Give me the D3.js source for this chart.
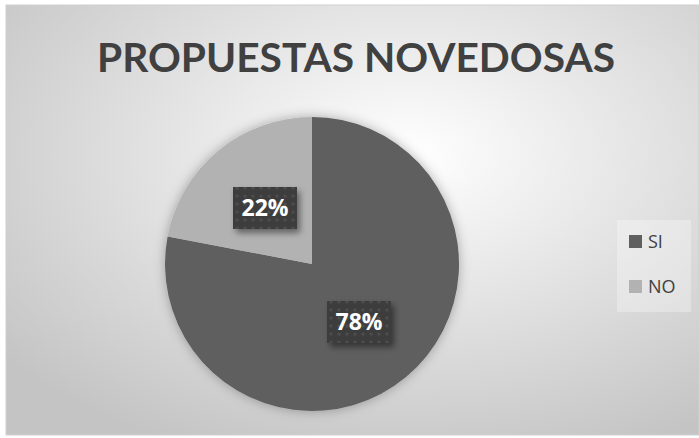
<!DOCTYPE html>
<html>
<head>
<meta charset="utf-8">
<script src="https://cdn.jsdelivr.net/npm/d3@7"></script>
<style>
  body { margin: 0; background: #fff; }
</style>
</head>
<body>
<div id="chart"></div>
<script>
// data
var categories = ["SI", "NO"];
var values = [78, 22];
var sliceColors = ["#5f5f5f", "#b2b2b2"];
var titleText = "PROPUESTAS NOVEDOSAS";

var w = 699, h = 438;

var svg = d3.select("#chart").append("svg")
    .attr("width", w)
    .attr("height", h);

var defs = svg.append("defs");

// radial background like excel
var bg = defs.append("radialGradient")
    .attr("id", "bgGrad")
    .attr("cx", "58%").attr("cy", "35%").attr("r", "75%");
bg.append("stop").attr("offset", "0%").attr("stop-color", "#ffffff");
bg.append("stop").attr("offset", "100%").attr("stop-color", "#c4c4c4");

// dotted pattern for the label boxes
var pat = defs.append("pattern")
    .attr("id", "dots")
    .attr("width", 8).attr("height", 8)
    .attr("patternUnits", "userSpaceOnUse");
pat.append("rect").attr("width", 8).attr("height", 8).attr("fill", "#3e3e3e");
pat.append("circle").attr("cx", 4).attr("cy", 4).attr("r", 1.6).attr("fill", "#4d4d4d");

var shadow = defs.append("filter").attr("id", "shadow")
    .attr("x", "-30%").attr("y", "-30%").attr("width", "160%").attr("height", "170%");
shadow.append("feDropShadow")
    .attr("dx", 3).attr("dy", 4).attr("stdDeviation", 3)
    .attr("flood-color", "#000").attr("flood-opacity", 0.45);

var pieShadow = defs.append("filter").attr("id", "pieShadow")
    .attr("x", "-20%").attr("y", "-20%").attr("width", "140%").attr("height", "140%");
pieShadow.append("feDropShadow")
    .attr("dx", 0).attr("dy", 0).attr("stdDeviation", 6)
    .attr("flood-color", "#000").attr("flood-opacity", 0.3);

// chart area
svg.append("rect")
    .attr("x", 6).attr("y", 5)
    .attr("width", w - 6).attr("height", 430)
    .attr("fill", "url(#bgGrad)")
    .attr("stroke", "#d0d0d0")
    .attr("stroke-width", 1);

// title
svg.append("text")
    .attr("x", 356)
    .attr("y", 72)
    .attr("text-anchor", "middle")
    .attr("textLength", 518)
    .attr("lengthAdjust", "spacingAndGlyphs")
    .style("font-family", "Lato, 'Open Sans', sans-serif")
    .style("font-weight", "bold")
    .style("font-size", "41px")
    .style("fill", "#404040")
    .text(titleText);

// pie
var cx = 312, cy = 264, radius = 147;
var pie = d3.pie().sort(null).value(d => d);
var arc = d3.arc().innerRadius(0).outerRadius(radius);
var arcs = pie(values);

var g = svg.append("g").attr("transform", "translate(" + cx + "," + cy + ")");

g.append("g")
    .attr("filter", "url(#pieShadow)")
    .selectAll("path")
    .data(arcs)
    .enter()
    .append("path")
    .attr("d", arc)
    .attr("fill", (d, i) => sliceColors[i]);

// data labels, placed where excel's best fit put them
var labelPos = [[47, 58], [-47, -56]];

var labels = g.selectAll("g.lbl")
    .data(arcs)
    .enter()
    .append("g")
    .attr("class", "lbl")
    .attr("transform", (d, i) => "translate(" + labelPos[i][0] + "," + labelPos[i][1] + ")");

labels.append("rect")
    .attr("x", -32).attr("y", -21)
    .attr("width", 64).attr("height", 42)
    .attr("fill", "url(#dots)")
    .attr("filter", "url(#shadow)");

labels.append("text")
    .attr("text-anchor", "middle")
    .attr("dy", "0.36em")
    .style("font-family", "'Open Sans', sans-serif")
    .style("font-weight", "bold")
    .style("font-size", "23px")
    .style("fill", "#ffffff")
    .text(d => d.data + "%");

// legend
var legend = svg.append("g");
legend.append("rect")
    .attr("x", 617).attr("y", 220)
    .attr("width", 74).attr("height", 92)
    .attr("fill", "#ffffff")
    .attr("opacity", 0.3);

var leg = legend.selectAll("g.item")
    .data(categories)
    .enter()
    .append("g")
    .attr("class", "item")
    .attr("transform", (d, i) => "translate(629," + (235 + i * 45) + ")");

leg.append("rect")
    .attr("width", 13).attr("height", 13)
    .attr("fill", (d, i) => sliceColors[i]);

leg.append("text")
    .attr("x", 19)
    .attr("y", 7)
    .attr("dy", "0.36em")
    .style("font-family", "'Open Sans', sans-serif")
    .style("font-size", "18px")
    .style("fill", "#404040")
    .text(d => d);
</script>
</body>
</html>
